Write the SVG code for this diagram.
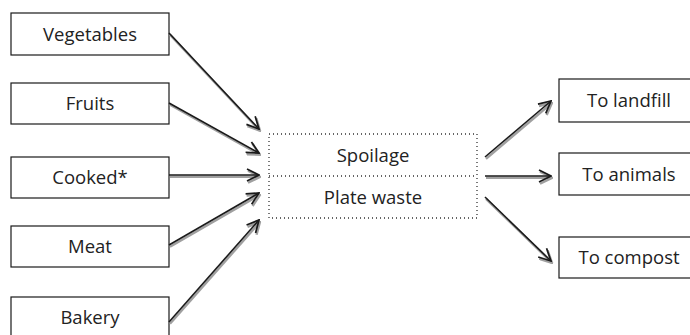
<svg xmlns="http://www.w3.org/2000/svg" width="690" height="335" viewBox="0 0 690 335">
<style>
.box{fill:#fff;stroke:#1a1a1a;stroke-width:1.2}
.lbl{font-family:"Open Sans","Liberation Sans",sans-serif;font-size:18.5px;fill:#222;text-anchor:middle}
.dot{fill:none;stroke:#333;stroke-width:1.3;stroke-dasharray:1 3}
.sh{stroke:#a0a0a0;stroke-width:2.4;fill:none}
.ln{stroke:#1a1a1a;stroke-width:1.6;fill:none}
</style>
<defs>
<marker id="ah" viewBox="0 0 14 14" refX="13" refY="7" markerWidth="14" markerHeight="14" markerUnits="userSpaceOnUse" orient="auto">
<path d="M1,1 L13,7 L1,13" fill="none" stroke="#1a1a1a" stroke-width="1.7"/>
</marker>
<marker id="ahs" viewBox="0 0 14 14" refX="13" refY="7" markerWidth="14" markerHeight="14" markerUnits="userSpaceOnUse" orient="auto">
<path d="M1,1 L13,7 L1,13" fill="none" stroke="#a0a0a0" stroke-width="2.4"/>
</marker>
</defs>
<g id="vegetables"><rect class="box" x="11" y="13" width="158" height="42"/><text class="lbl" x="90" y="41">Vegetables</text></g>
<g id="fruits"><rect class="box" x="11" y="83" width="158" height="41"/><text class="lbl" x="90" y="110">Fruits</text></g>
<g id="cooked"><rect class="box" x="11" y="157" width="158" height="41"/><text class="lbl" x="90" y="184">Cooked*</text></g>
<g id="meat"><rect class="box" x="11" y="226" width="158" height="41"/><text class="lbl" x="90" y="253">Meat</text></g>
<g id="bakery"><rect class="box" x="11" y="297" width="158" height="41"/><text class="lbl" x="90" y="324">Bakery</text></g>
<g id="center">
<rect class="dot" x="269" y="134" width="208" height="84"/>
<line class="dot" x1="269" y1="176" x2="477" y2="176"/>
<text class="lbl" x="373" y="162">Spoilage</text>
<text class="lbl" x="373" y="204">Plate waste</text>
</g>
<g id="landfill"><rect class="box" x="559" y="79" width="140" height="43"/><text class="lbl" x="629" y="107">To landfill</text></g>
<g id="animals"><rect class="box" x="559" y="153" width="140" height="42"/><text class="lbl" x="629" y="181">To animals</text></g>
<g id="compost"><rect class="box" x="559" y="237" width="140" height="41"/><text class="lbl" x="629" y="264">To compost</text></g>
<g id="connectors">
<g transform="translate(1,1.8)">
<line class="sh" marker-end="url(#ahs)" x1="169" y1="33" x2="259" y2="129"/>
<line class="sh" marker-end="url(#ahs)" x1="169" y1="103" x2="259" y2="153"/>
<line class="sh" marker-end="url(#ahs)" x1="169" y1="175" x2="259" y2="175"/>
<line class="sh" marker-end="url(#ahs)" x1="169" y1="245" x2="259" y2="193"/>
<line class="sh" marker-end="url(#ahs)" x1="169" y1="322" x2="259" y2="220"/>
<line class="sh" marker-end="url(#ahs)" x1="485" y1="157" x2="551" y2="101"/>
<line class="sh" marker-end="url(#ahs)" x1="485" y1="176" x2="551" y2="176"/>
<line class="sh" marker-end="url(#ahs)" x1="485" y1="197" x2="551" y2="261"/>
</g>
<line class="ln" marker-end="url(#ah)" x1="169" y1="33" x2="259" y2="129"/>
<line class="ln" marker-end="url(#ah)" x1="169" y1="103" x2="259" y2="153"/>
<line class="ln" marker-end="url(#ah)" x1="169" y1="175" x2="259" y2="175"/>
<line class="ln" marker-end="url(#ah)" x1="169" y1="245" x2="259" y2="193"/>
<line class="ln" marker-end="url(#ah)" x1="169" y1="322" x2="259" y2="220"/>
<line class="ln" marker-end="url(#ah)" x1="485" y1="157" x2="551" y2="101"/>
<line class="ln" marker-end="url(#ah)" x1="485" y1="176" x2="551" y2="176"/>
<line class="ln" marker-end="url(#ah)" x1="485" y1="197" x2="551" y2="261"/>
</g>
</svg>
